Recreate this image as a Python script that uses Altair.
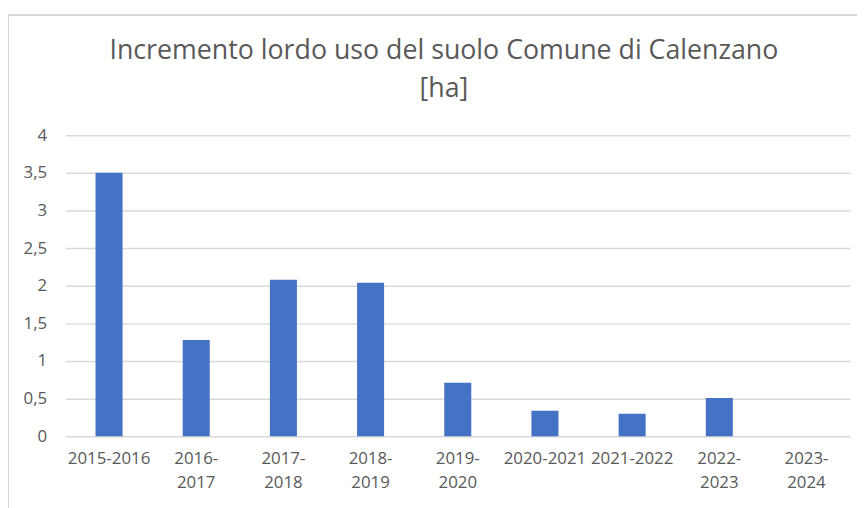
import altair as alt
import pandas as pd

periods = ["2015-2016", "2016-2017", "2017-2018", "2018-2019", "2019-2020",
           "2020-2021", "2021-2022", "2022-2023", "2023-2024"]
values = [3.50, 1.28, 2.08, 2.04, 0.71, 0.34, 0.30, 0.51, 0.0]
single_line_labels = ["2015-2016", "2020-2021", "2021-2022"]
y_ticks = [0, 0.5, 1, 1.5, 2, 2.5, 3, 3.5, 4]
title_lines = ["Incremento lordo uso del suolo Comune di Calenzano", "[ha]"]

df = pd.DataFrame({"periodo": periods, "valore": values})

TEXT = "#595959"
GRID = "#d9d9d9"
FONT = "Open Sans"

single_js = "[" + ",".join(f"'{s}'" for s in single_line_labels) + "]"

bars = alt.Chart(df).mark_bar(color="#4472C4").encode(
    x=alt.X("periodo:N", sort=periods, title=None,
            scale=alt.Scale(paddingInner=0.69, paddingOuter=0.345),
            axis=alt.Axis(labelAngle=0, labelFont=FONT, labelFontSize=17,
                          labelColor=TEXT, labelPadding=14, ticks=False,
                          domain=False, labelLineHeight=25, labelOverlap=False,
                          labelExpr=f"indexof({single_js}, datum.value) >= 0 ? datum.value : [slice(datum.value, 0, 5), slice(datum.value, 5)]")),
    y=alt.Y("valore:Q", title=None,
            scale=alt.Scale(domain=[0, 4], nice=False),
            axis=alt.Axis(values=y_ticks, labelFont=FONT, labelFontSize=17,
                          labelColor=TEXT, labelPadding=19, ticks=False,
                          domain=False, gridColor=GRID, gridWidth=1.5,
                          labelExpr="replace(toString(datum.value), '.', ',')")),
)

border = alt.Chart(df).mark_rect(fill=None, stroke=GRID, strokeWidth=1.5).encode(
    x=alt.value(-58), x2=alt.value(830), y=alt.value(-121), y2=alt.value(420)
)

chart = alt.layer(border, bars).properties(
    width=792, height=304,
    autosize=alt.AutoSizeParams(type="none"),
    padding={"left": 58, "top": 126, "right": 7, "bottom": 70},
    title=alt.TitleParams(title_lines, font=FONT, fontSize=27, fontWeight="normal",
                          color=TEXT, lineHeight=38, anchor="middle", dx=-14,
                          offset=-89),
).configure_view(stroke=None)

chart.save("out.html", embed_options={"renderer": "svg", "actions": False})
